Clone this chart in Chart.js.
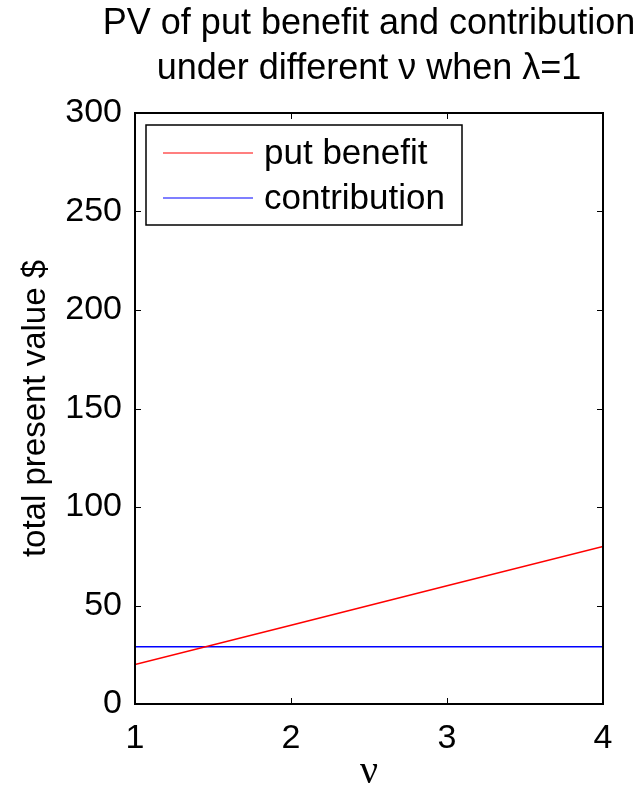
<!DOCTYPE html>
<html>
<head>
  <meta charset="UTF-8">
  <title>PV of put benefit and contribution</title>
  <script src="https://cdn.jsdelivr.net/npm/chart.js"></script>
  <style>
    html, body { margin: 0; padding: 0; background: #fff; }
    #wrap { width: 644px; height: 786px; }
  </style>
</head>
<body>
  <div id="wrap"><canvas id="pvChart" width="644" height="786"></canvas></div>

  <script>
    // data
    const nuValues = [1, 2, 3, 4];
    const putBenefit = [20, 40, 60, 80];
    const contribution = [29, 29, 29, 29];
    const xTicks = [1, 2, 3, 4];
    const yTicks = [0, 50, 100, 150, 200, 250, 300];

    const FONT = "'Liberation Sans', Arial, Helvetica, sans-serif";

    // matlab-like box with inward ticks, title and legend inside the axes
    const matlabBox = {
      id: 'matlabBox',
      afterDraw(chart) {
        const ctx = chart.ctx;
        const a = chart.chartArea;
        const xs = chart.scales.x, ys = chart.scales.y;
        const tl = 6;
        ctx.save();
        ctx.strokeStyle = '#000';
        ctx.lineWidth = 2;
        ctx.strokeRect(a.left, a.top, a.right - a.left, a.bottom - a.top);
        ctx.lineWidth = 1;
        ctx.beginPath();
        xTicks.forEach(v => {
          const px = Math.round(xs.getPixelForValue(v)) + 0.5;
          ctx.moveTo(px, a.bottom); ctx.lineTo(px, a.bottom - tl);
          ctx.moveTo(px, a.top); ctx.lineTo(px, a.top + tl);
        });
        yTicks.forEach(v => {
          const py = Math.round(ys.getPixelForValue(v)) + 0.5;
          ctx.moveTo(a.left, py); ctx.lineTo(a.left + tl, py);
          ctx.moveTo(a.right, py); ctx.lineTo(a.right - tl, py);
        });
        ctx.stroke();

        // title
        const cx = (a.left + a.right) / 2;
        ctx.fillStyle = '#000';
        ctx.font = '36px ' + FONT;
        ctx.textAlign = 'center';
        ctx.textBaseline = 'middle';
        ctx.fillText('PV of put benefit and contribution', cx, 24);
        ctx.fillText('under different \u03BD when \u03BB=1', cx, 69);

        // legend
        const lx = 146, ly = 125, lw = 316, lh = 100;
        ctx.fillStyle = '#fff';
        ctx.fillRect(lx, ly, lw, lh);
        ctx.lineWidth = 1.5;
        ctx.strokeStyle = '#000';
        ctx.strokeRect(lx, ly, lw, lh);
        ctx.font = '35px ' + FONT;
        ctx.textAlign = 'left';
        chart.data.datasets.forEach((ds, i) => {
          const y = ly + 28 + i * 45;
          ctx.strokeStyle = ds.borderColor;
          ctx.lineWidth = 1.2;
          ctx.beginPath();
          ctx.moveTo(lx + 17, y); ctx.lineTo(lx + 107, y);
          ctx.stroke();
          ctx.fillStyle = '#000';
          ctx.fillText(ds.label, lx + 118, y + 1);
        });
        ctx.restore();
      }
    };

    window.onload = () => {
      const ctx = document.getElementById('pvChart').getContext('2d');
      new Chart(ctx, {
        type: 'line',
        data: {
          datasets: [{
            label: 'put benefit',
            data: nuValues.map((v, i) => ({ x: v, y: putBenefit[i] })),
            borderColor: '#ff0000',
            borderWidth: 1.5,
            pointRadius: 0,
            tension: 0
          }, {
            label: 'contribution',
            data: nuValues.map((v, i) => ({ x: v, y: contribution[i] })),
            borderColor: '#0000ff',
            borderWidth: 1.5,
            pointRadius: 0,
            tension: 0
          }]
        },
        options: {
          responsive: false,
          animation: false,
          layout: { padding: { left: 0, top: 113, right: 41, bottom: 0 } },
          plugins: {
            legend: { display: false },
            title: { display: false },
            tooltip: { enabled: false }
          },
          scales: {
            x: {
              type: 'linear',
              min: 1, max: 4,
              afterBuildTicks: s => { s.ticks = xTicks.map(v => ({ value: v })); },
              afterFit: s => { s.height = 82; },
              grid: { display: false },
              border: { display: false },
              ticks: { color: '#000', padding: 6, font: { family: FONT, size: 34 } },
              title: {
                display: true, text: '\u03BD', color: '#000',
                font: { family: "'Liberation Serif', 'DejaVu Serif', serif", size: 40, lineHeight: 0.7 },
                padding: { top: 0, bottom: 0 }
              }
            },
            y: {
              min: 0, max: 300,
              afterBuildTicks: s => { s.ticks = yTicks.map(v => ({ value: v })); },
              afterFit: s => { s.width = 135; },
              grid: { display: false },
              border: { display: false },
              ticks: { color: '#000', padding: 5, font: { family: FONT, size: 34 } },
              title: {
                display: true, text: 'total present value $', color: '#000',
                font: { family: FONT, size: 33 },
                padding: { top: 16, bottom: 0 }
              }
            }
          }
        },
        plugins: [matlabBox]
      });
    };
  </script>
</body>
</html>
